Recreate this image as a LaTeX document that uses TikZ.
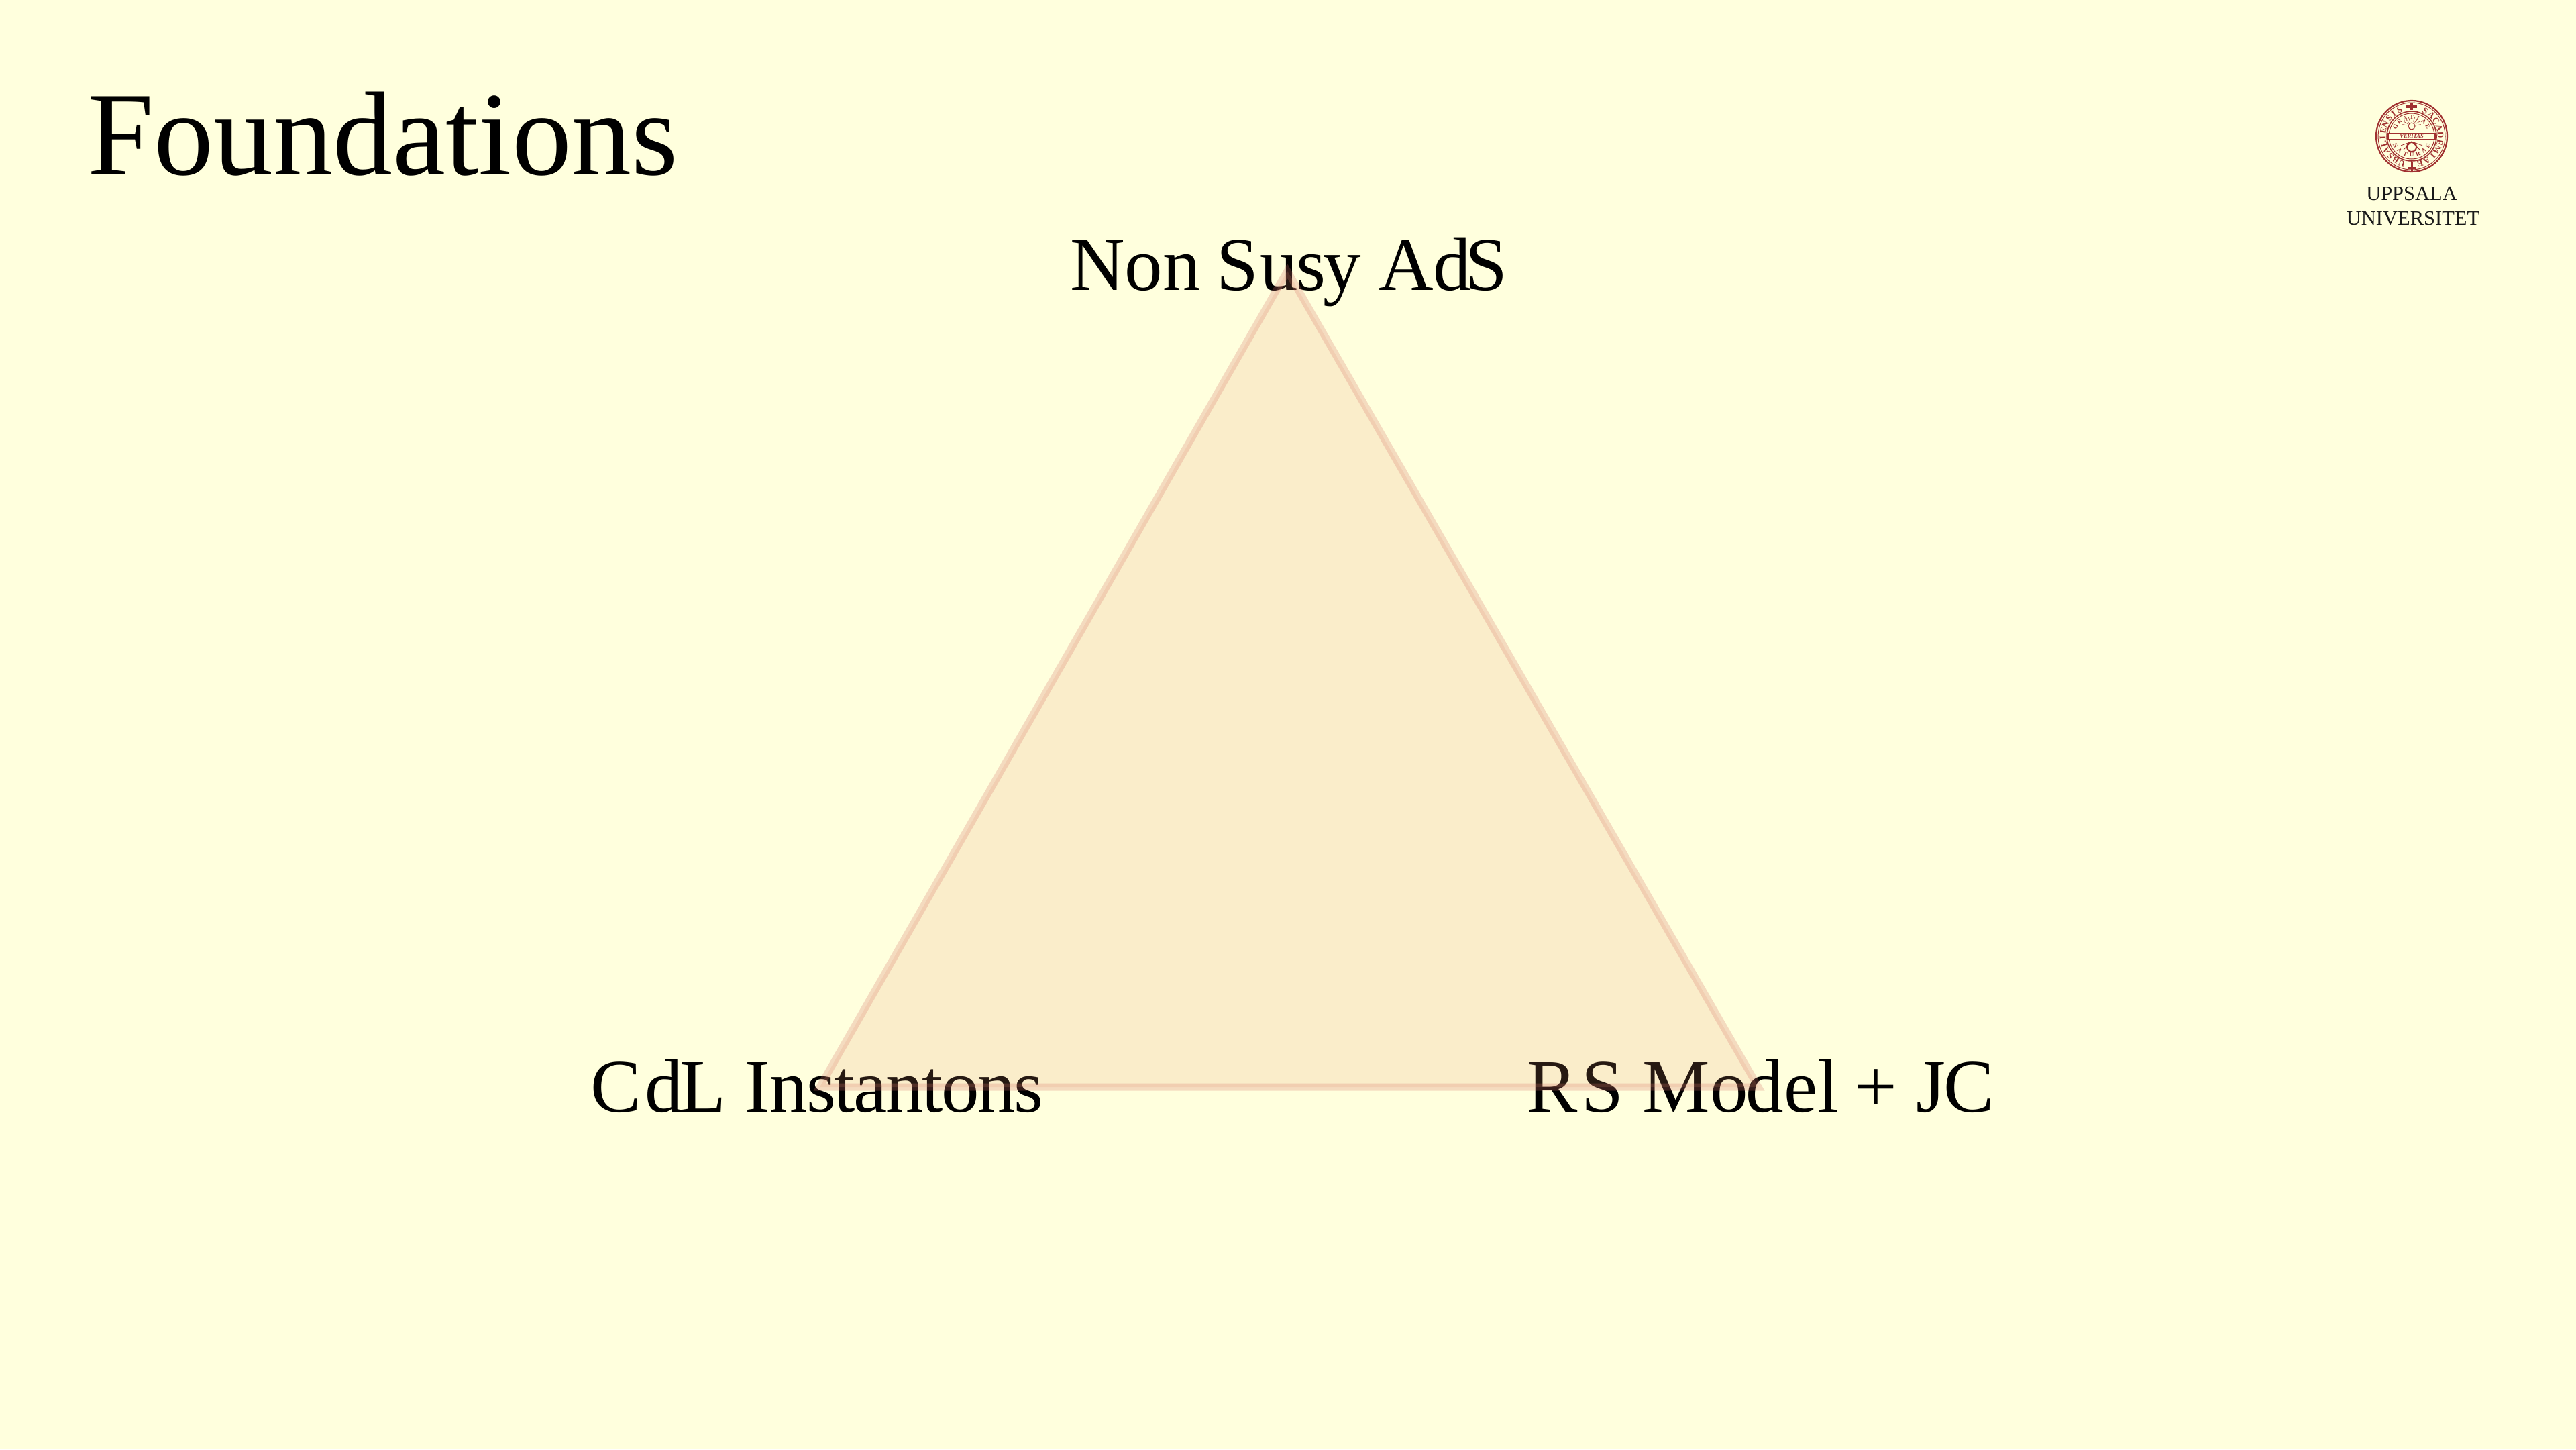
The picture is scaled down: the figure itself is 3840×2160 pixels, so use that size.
\documentclass[tikz,border=0pt]{standalone}
\usepackage{fontspec}
\setmainfont{Liberation Serif}
\definecolor{bgcol}{RGB}{255,255,221}
\definecolor{triedge}{RGB}{215,115,105}
\definecolor{trifill}{RGB}{230,150,110}
\definecolor{sealcol}{RGB}{160,48,48}
\tikzset{
  x=1pt,y=-1pt,
  title/.style={inner sep=0pt,anchor=base west,font=\fontsize{178}{178}\selectfont,text=black},
  label/.style={inner sep=0pt,anchor=base west,font=\fontsize{113}{113}\selectfont,text=black},
  logotext/.style={inner sep=0pt,anchor=base,font=\fontsize{30.5}{30.5}\selectfont,text=black!90},
  triangle/.style={fill=trifill,fill opacity=0.17,draw=none},
  triangleedge/.style={draw=triedge,draw opacity=0.25,line width=11pt,line join=miter},
  sealline/.style={draw=sealcol},
  sealglyph/.style={inner sep=0pt,text=sealcol,font=\fontsize{#1}{#1}\selectfont\bfseries}
}
\begin{document}
\begin{tikzpicture}
\useasboundingbox (0,0) rectangle (3840,2160);
\fill[bgcol] (0,0) rectangle (3840,2160);
\node[title] (title) at (130,260) {Foundations};
\node[label] (top) at (1595,432) {Non\kern-4pt\ S\kern2pt{\addfontfeature{LetterSpace=-3}usy}\kern-2pt\ Ad\kern-9pt S};
\node[label] (left) at (880,1657) {C\kern6pt d\kern-5pt L I{\addfontfeature{LetterSpace=-2.2}nstantons}};
\node[label] (right) at (2276,1657) {R\kern6pt S Mo\kern-3pt del\kern-4pt\ + J\kern-3pt C};
\coordinate (A) at (1919,404);
\coordinate (B) at (1222,1620);
\coordinate (C) at (2621,1620);
\fill[triangle] (A) -- (B) -- (C) -- cycle;
\draw[triangleedge] (A) -- (B) -- (C) -- cycle;
% logo
\begin{scope}[shift={(3595,203)},y=1pt]
 \draw[sealline,line width=2.2pt] (0,0) circle (53);
 \draw[sealline,line width=1pt] (0,0) circle (50);
 \draw[sealline,line width=1.6pt] (0,0) circle (37);
 \draw[sealline,line width=1pt] (0,0) circle (34);
 % outer legend, clockwise from the bottom
 \foreach \ch [count=\i] in {U,B,S,A,L,I,E,N,S,I,S}
   {\pgfmathsetmacro{\ang}{250-(\i-1)*13.5}
    \node[sealglyph=13,rotate=\ang-90] (oa\i) at (\ang:43) {\ch};}
 \foreach \ch [count=\i] in {S,A,C,A,D,E,M,I,A,E}
   {\pgfmathsetmacro{\ang}{62-(\i-1)*15}
    \node[sealglyph=13,rotate=\ang-90] (ob\i) at (\ang:43) {\ch};}
 % inner legends
 \foreach \ch [count=\i] in {G,R,A,T,I,A,E}
   {\pgfmathsetmacro{\ang}{150-(\i-1)*20}
    \node[sealglyph=9,rotate=\ang-90] (ga\i) at (\ang:28) {\ch};}
 \foreach \ch [count=\i] in {N,A,T,U,R,A,E}
   {\pgfmathsetmacro{\ang}{210+(\i-1)*20}
    \node[sealglyph=9,rotate=\ang+90] (na\i) at (\ang:28) {\ch};}
 \draw[sealline,line width=1.4pt,fill=bgcol] (-35,-4.5) rectangle (35,4.5);
 \node[sealglyph=8.5] (veritas) at (0,0) {\itshape VERITAS};
 \draw[sealline,line width=1pt] (0,15) circle (5);
 \foreach \a in {10,30,...,170}{\draw[sealline,line width=.6pt] (0,15) ++(\a:7) -- ++(\a:7);}
 \draw[sealline,line width=2pt] (0,-16) circle (7);
 \foreach \a in {200,225,315,340}{\draw[sealline,line width=.8pt] (0,-8) -- ++(\a:17);}
 \draw[sealline,line width=3.5pt] (-8,44) -- (8,44) (0,39) -- (0,50);
 \draw[sealline,line width=3pt] (-6,-47) -- (6,-47) (0,-38) -- (0,-52);
\end{scope}
\node[logotext] (upp) at (3595,298) {UPPSALA};
\node[logotext] (uni) at (3597,335) {UNIVERSITET};
\end{tikzpicture}
\end{document}
